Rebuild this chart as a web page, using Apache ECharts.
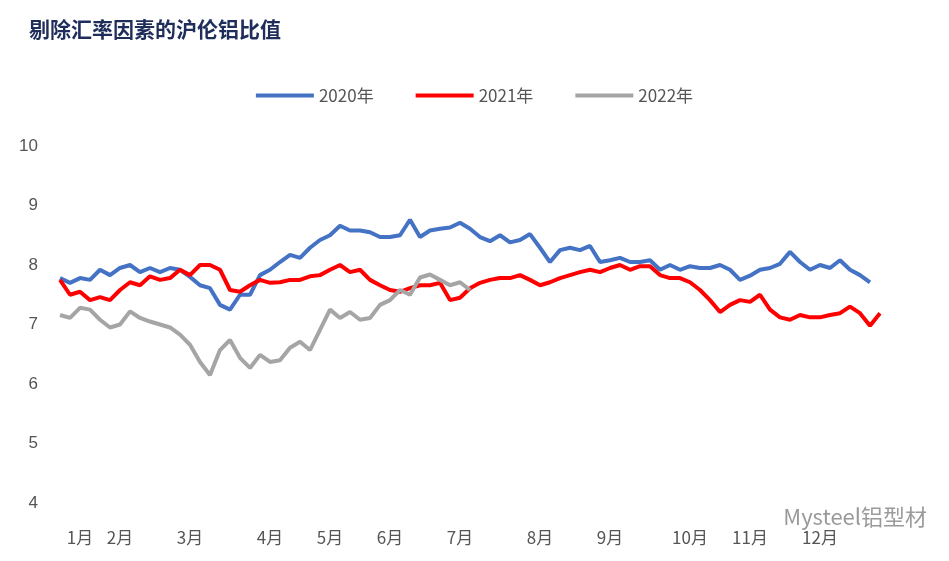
<!DOCTYPE html>
<html>
<head>
<meta charset="utf-8">
<script src="https://cdn.jsdelivr.net/npm/echarts@6/dist/echarts.min.js"></script>
<style>body{margin:0;background:#fff}</style>
</head>
<body>
<div id="chart" style="width:949px;height:561px;"></div>
<script>
// pixel reading helper was used offline; values below are ratios
var monthLabels = {2:'1月',6:'2月',13:'3月',21:'4月',27:'5月',33:'6月',40:'7月',48:'8月',55:'9月',63:'10月',69:'11月',76:'12月'};
var v2020 = [7.78,7.70,7.78,7.75,7.92,7.83,7.95,8.00,7.88,7.95,7.88,7.95,7.92,7.80,7.66,7.61,7.33,7.25,7.50,7.50,7.83,7.92,8.05,8.17,8.12,8.29,8.42,8.50,8.66,8.58,8.58,8.55,8.47,8.47,8.50,8.76,8.47,8.58,8.61,8.63,8.71,8.61,8.47,8.40,8.50,8.38,8.42,8.52,8.29,8.05,8.25,8.29,8.25,8.32,8.05,8.08,8.12,8.05,8.05,8.08,7.92,8.00,7.92,7.98,7.95,7.95,8.00,7.92,7.75,7.82,7.92,7.95,8.02,8.22,8.05,7.92,8.00,7.95,8.08,7.92,7.83,7.71];
var v2021 = [7.75,7.50,7.55,7.41,7.46,7.41,7.58,7.71,7.66,7.81,7.75,7.78,7.92,7.83,8.00,8.00,7.92,7.58,7.55,7.66,7.75,7.70,7.71,7.75,7.75,7.81,7.83,7.92,8.00,7.88,7.92,7.75,7.66,7.58,7.55,7.61,7.66,7.66,7.70,7.41,7.45,7.61,7.70,7.75,7.78,7.78,7.83,7.75,7.66,7.71,7.78,7.83,7.88,7.92,7.88,7.95,8.00,7.92,7.98,7.98,7.83,7.78,7.78,7.71,7.58,7.41,7.21,7.33,7.41,7.38,7.50,7.25,7.12,7.08,7.16,7.12,7.12,7.16,7.19,7.30,7.19,6.98,7.19];
var v2022 = [7.16,7.11,7.28,7.25,7.08,6.95,7.00,7.22,7.11,7.05,7.00,6.95,6.83,6.66,6.37,6.15,6.57,6.74,6.44,6.27,6.49,6.37,6.40,6.61,6.71,6.57,6.91,7.25,7.11,7.21,7.08,7.11,7.33,7.41,7.58,7.50,7.79,7.84,7.75,7.66,7.71,7.58];
var cats = [];
for (var i = 0; i < v2021.length; i++) cats.push(monthLabels[i] || '');

var myChart = echarts.init(document.getElementById('chart'));
var option = {
    animation: false,
    title: {
        text: '剔除汇率因素的沪伦铝比值',
        left: 24, top: 14,
        textStyle: {fontFamily: 'Noto Sans CJK SC', fontSize: 21, fontWeight: 'bold', color: '#1f2d5a'}
    },
    graphic: [{
        type: 'text', right: 22, top: 506,
        style: {text: 'Mysteel铝型材', fontFamily: 'Noto Sans CJK SC', fontSize: 22, fill: '#9a9a9a'}
    }],
    legend: {
        top: 82, left: 'center', itemWidth: 58, itemHeight: 4, itemGap: 42,
        icon: 'rect',
        textStyle: {fontSize: 17, color: '#555', fontFamily: 'Noto Sans CJK SC'},
        data: ['2020年', '2021年', '2022年']
    },
    grid: {left: 60, right: 69, top: 146, bottom: 58},
    xAxis: {
        type: 'category', data: cats, boundaryGap: false,
        axisLine: {show: false}, axisTick: {show: false},
        axisLabel: {interval: 0, fontSize: 17, color: '#555', fontFamily: 'Noto Sans CJK SC', margin: 26}
    },
    yAxis: {
        type: 'value', min: 4, max: 10, interval: 1,
        splitLine: {show: false}, axisLine: {show: false},
        axisLabel: {fontSize: 17, color: '#555', margin: 22}
    },
    series: [
        {name: '2020年', type: 'line', data: v2020, showSymbol: false, lineStyle: {width: 4, color: '#4472c4'}, itemStyle: {color: '#4472c4'}},
        {name: '2021年', type: 'line', data: v2021, showSymbol: false, lineStyle: {width: 4, color: '#ff0000'}, itemStyle: {color: '#ff0000'}},
        {name: '2022年', type: 'line', data: v2022, showSymbol: false, lineStyle: {width: 4, color: '#a5a5a5'}, itemStyle: {color: '#a5a5a5'}}
    ]
};
myChart.setOption(option);
</script>
</body>
</html>
